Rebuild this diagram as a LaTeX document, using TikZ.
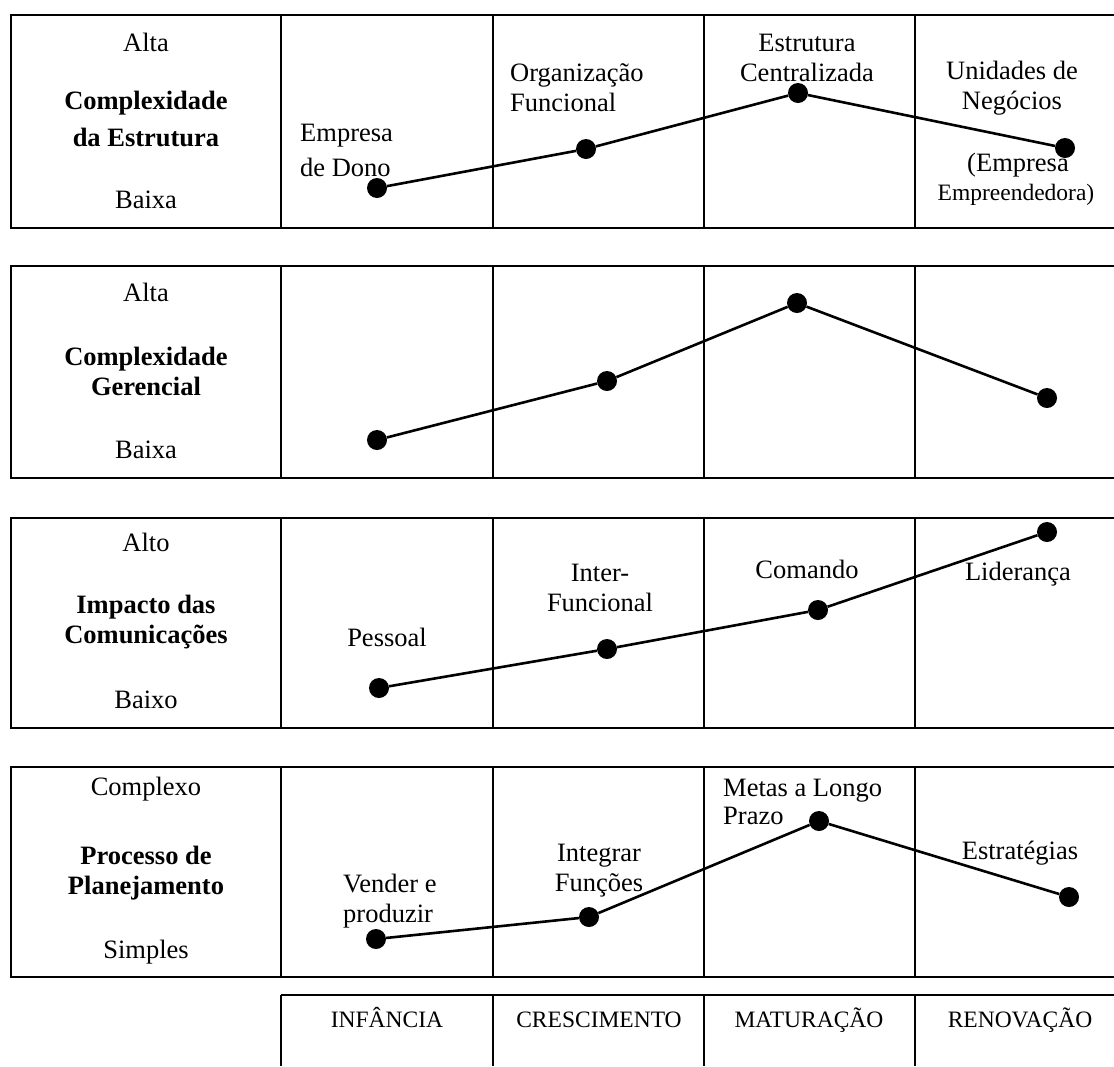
\documentclass[tikz,border=0pt]{standalone}
\usepackage{fontspec}
\setmainfont{Liberation Serif}
\begin{document}
\begin{tikzpicture}[x=1pt,y=-1pt,
  txt/.style={font=\fontsize{26.5}{30}\selectfont, inner sep=0pt, align=center},
  bold/.style={font=\fontsize{26.5}{30}\selectfont\bfseries, inner sep=0pt, align=center},
  small/.style={font=\fontsize{23.5}{28}\selectfont, inner sep=0pt},
  one/.style={text height=17.5pt, text depth=0pt},
  onesmall/.style={text height=15.6pt, text depth=0pt},
  dot/.style={circle, fill=black, inner sep=0pt, minimum size=20pt},
  conn/.style={line width=2.6pt},
  frame/.style={line width=2.8pt}]
\useasboundingbox (0,0) rectangle (1114,1066);
% panel frames
\foreach \t/\b in {15/228,266/478,518/728,767/977}{
  \draw[frame] (1114,\t) -- (11,\t) -- (11,\b) -- (1114,\b);
  \foreach \x in {281,493,704,915} \draw[frame] (\x,\t) -- (\x,\b);
}
\draw[frame] (281,995) -- (1114,995);
\foreach \x in {281,493,704,915} \draw[frame] (\x,995) -- (\x,1066);

% ---------- panel 1
\node[txt,one] (p1hi) at (146,43) {Alta};
\node[bold] (p1t) at (146,119) {Complexidade\\[7pt]da Estrutura};
\node[txt,one] (p1lo) at (146,200) {Baixa};
\node[txt,align=left,anchor=west] (p1a) at (300,150) {Empresa\\[5pt]de Dono};
\node[txt,align=left,anchor=west] (p1b) at (510,88) {Organização\\Funcional};
\node[txt] (p1c) at (807,58) {Estrutura\\Centralizada};
\node[txt] (p1d) at (1012,88) {Unidades de\\Negócios};
\node[txt,one] (p1e) at (1018,163) {(Empresa};
\node[small,onesmall] (p1f) at (1016,193) {Empreendedora)};
\node[dot] (d11) at (377,188) {};
\node[dot] (d12) at (586,149) {};
\node[dot] (d13) at (798,93) {};
\node[dot] (d14) at (1065,148) {};
\draw[conn] (d11) -- (d12) -- (d13) -- (d14);

% ---------- panel 2
\node[txt,one] (p2hi) at (146,293) {Alta};
\node[bold] (p2t) at (146,371) {Complexidade\\Gerencial};
\node[txt,one] (p2lo) at (146,450) {Baixa};
\node[dot] (d21) at (377,440) {};
\node[dot] (d22) at (607,381) {};
\node[dot] (d23) at (797,303) {};
\node[dot] (d24) at (1047,398) {};
\draw[conn] (d21) -- (d22) -- (d23) -- (d24);

% ---------- panel 3
\node[txt,one] (p3hi) at (146,543) {Alto};
\node[bold] (p3t) at (146,622) {Impacto das\\Comunicações};
\node[txt,one] (p3lo) at (146,700) {Baixo};
\node[txt,one] (p3a) at (387,638) {Pessoal};
\node[txt] (p3b) at (600,588) {Inter-\\Funcional};
\node[txt,one] (p3c) at (807,570) {Comando};
\node[txt,one] (p3d) at (1018,572) {Liderança};
\node[dot] (d31) at (379,688) {};
\node[dot] (d32) at (607,649) {};
\node[dot] (d33) at (818,610) {};
\node[dot] (d34) at (1047,532) {};
\draw[conn] (d31) -- (d32) -- (d33) -- (d34);

% ---------- panel 4
\node[txt,one] (p4hi) at (146,787) {Complexo};
\node[bold] (p4t) at (146,873) {Processo de\\Planejamento};
\node[txt,one] (p4lo) at (146,950) {Simples};
\node[txt,align=left,anchor=west] (p4a) at (343,901) {Vender e\\produzir};
\node[txt] (p4b) at (599,871) {Integrar\\Funções};
\node[txt,align=left,anchor=west] (p4c) at (723,802) {Metas a Longo\\[-2pt]Prazo};
\node[txt,one] (p4d) at (1020,851) {Estratégias};
\node[dot] (d41) at (376,939) {};
\node[dot] (d42) at (589,917) {};
\node[dot] (d43) at (819,821) {};
\node[dot] (d44) at (1069,897) {};
\draw[conn] (d41) -- (d42) -- (d43) -- (d44);

% ---------- stages
\node[small,onesmall] (s1) at (387,1020) {INFÂNCIA};
\node[small,onesmall] (s2) at (599,1020) {CRESCIMENTO};
\node[small,onesmall] (s3) at (809,1020) {MATURAÇÃO};
\node[small,onesmall] (s4) at (1020,1020) {RENOVAÇÃO};
\end{tikzpicture}
\end{document}
